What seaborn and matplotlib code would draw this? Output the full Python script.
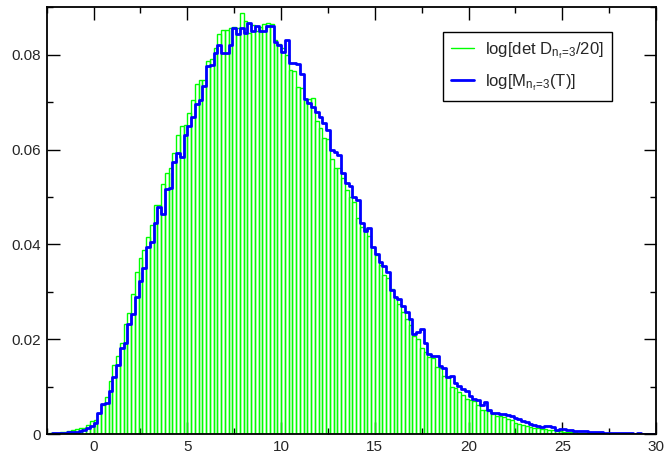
import numpy as np
import pandas as pd
import matplotlib
matplotlib.use("Agg")
import matplotlib.pyplot as plt
from matplotlib.lines import Line2D
from matplotlib.ticker import MultipleLocator, FuncFormatter
import seaborn as sns

# ---- data: histogram heights per 0.2-wide bin, first bin starts at -2.4 ----
bin_start = -2.4
bin_width = 0.2

det_D = [  # green: log[det D_{nf=3}/20]
    0.0002, 0.0002, 0.0003, 0.0004, 0.0005, 0.0006, 0.0008, 0.0011, 0.0013, 0.0013,
    0.0020, 0.0027, 0.0030, 0.0045, 0.0062, 0.0079, 0.0111, 0.0146, 0.0165, 0.0193,
    0.0232, 0.0256, 0.0295, 0.0341, 0.0371, 0.0388, 0.0415, 0.0441, 0.0484, 0.0484,
    0.0528, 0.0550, 0.0560, 0.0592, 0.0630, 0.0649, 0.0651, 0.0676, 0.0704, 0.0739,
    0.0746, 0.0747, 0.0786, 0.0790, 0.0815, 0.0844, 0.0851, 0.0851, 0.0856, 0.0858,
    0.0856, 0.0888, 0.0871, 0.0846, 0.0862, 0.0850, 0.0859, 0.0864, 0.0867, 0.0864,
    0.0830, 0.0823, 0.0815, 0.0800, 0.0768, 0.0765, 0.0731, 0.0729, 0.0705, 0.0707,
    0.0708, 0.0660, 0.0645, 0.0624, 0.0622, 0.0581, 0.0560, 0.0561, 0.0539, 0.0514,
    0.0500, 0.0490, 0.0455, 0.0437, 0.0432, 0.0418, 0.0395, 0.0377, 0.0356, 0.0335,
    0.0330, 0.0305, 0.0288, 0.0275, 0.0258, 0.0242, 0.0230, 0.0207, 0.0200, 0.0181,
    0.0172, 0.0163, 0.0160, 0.0142, 0.0139, 0.0123, 0.0120, 0.0100, 0.0097, 0.0088,
    0.0082, 0.0074, 0.0072, 0.0070, 0.0062, 0.0050, 0.0050, 0.0048, 0.0043, 0.0039,
    0.0037, 0.0035, 0.0032, 0.0029, 0.0024, 0.0022, 0.0018, 0.0016, 0.0015, 0.0013,
    0.0012, 0.0011, 0.0010, 0.0009, 0.0008, 0.0006, 0.0006, 0.0005, 0.0005, 0.0004,
    0.0004, 0.0003, 0.0003, 0.0003, 0.0002, 0.0002, 0.0002, 0.0002, 0.0001, 0.0001,
    0.0001, 0.0001, 0.0001, 0.0001, 0.0001, 0.0001, 0.0001, 0.0001, 0.0000, 0.0000,
    0.0000, 0.0000,
]

M_T = [  # blue: log[M_{nf=3}(T)]
    0.0001, 0.0002, 0.0002, 0.0002, 0.0003, 0.0004, 0.0004, 0.0005, 0.0006, 0.0009,
    0.0012, 0.0017, 0.0024, 0.0044, 0.0063, 0.0066, 0.0090, 0.0120, 0.0146, 0.0182,
    0.0192, 0.0232, 0.0253, 0.0290, 0.0323, 0.0351, 0.0395, 0.0405, 0.0444, 0.0478,
    0.0464, 0.0516, 0.0518, 0.0574, 0.0592, 0.0584, 0.0630, 0.0649, 0.0669, 0.0697,
    0.0705, 0.0733, 0.0776, 0.0778, 0.0803, 0.0821, 0.0804, 0.0804, 0.0821, 0.0856,
    0.0844, 0.0856, 0.0846, 0.0867, 0.0850, 0.0860, 0.0849, 0.0849, 0.0860, 0.0860,
    0.0827, 0.0820, 0.0805, 0.0832, 0.0783, 0.0782, 0.0781, 0.0760, 0.0707, 0.0698,
    0.0690, 0.0679, 0.0669, 0.0655, 0.0641, 0.0599, 0.0595, 0.0588, 0.0550, 0.0530,
    0.0523, 0.0500, 0.0493, 0.0445, 0.0429, 0.0434, 0.0395, 0.0379, 0.0363, 0.0354,
    0.0342, 0.0304, 0.0288, 0.0285, 0.0269, 0.0257, 0.0242, 0.0211, 0.0216, 0.0221,
    0.0192, 0.0169, 0.0165, 0.0165, 0.0144, 0.0139, 0.0121, 0.0123, 0.0107, 0.0102,
    0.0095, 0.0091, 0.0081, 0.0074, 0.0072, 0.0062, 0.0067, 0.0051, 0.0045, 0.0045,
    0.0043, 0.0043, 0.0041, 0.0037, 0.0034, 0.0032, 0.0027, 0.0025, 0.0021, 0.0018,
    0.0016, 0.0015, 0.0017, 0.0016, 0.0014, 0.0009, 0.0011, 0.0010, 0.0008, 0.0008,
    0.0007, 0.0007, 0.0006, 0.0006, 0.0005, 0.0005, 0.0004, 0.0004, 0.0003, 0.0003,
    0.0003, 0.0002, 0.0002, 0.0002, 0.0002, 0.0002, 0.0001, 0.0002, 0.0001, 0.0001,
    0.0001, 0.0001,
]

label_green = r"log[det D$_{n_f\!=\!3}$/20]"
label_blue = r"log[M$_{n_f\!=\!3}$(T)]"

x_ticks = [0, 5, 10, 15, 20, 25, 30]
y_ticks = [0, 0.02, 0.04, 0.06, 0.08]

# ---- build data frame ----
n = min(len(det_D), len(M_T))
edges = [float(e) for e in (bin_start + bin_width * np.arange(n + 1))]
centers = [0.5 * (edges[i] + edges[i + 1]) for i in range(n)]
df = pd.DataFrame({"x": centers, "green": det_D[:n], "blue": M_T[:n]})

sns.set_style("ticks")
plt.rcParams["font.family"] = ["Liberation Sans", "DejaVu Sans"]
plt.rcParams["mathtext.fontset"] = "custom"
plt.rcParams["mathtext.rm"] = "Liberation Sans"
plt.rcParams["mathtext.it"] = "Liberation Sans"
plt.rcParams["mathtext.default"] = "regular"

fig, ax = plt.subplots(figsize=(6.68, 4.54), dpi=100)
fig.subplots_adjust(left=0.070, right=0.982, top=0.984, bottom=0.044)

sns.histplot(data=df, x="x", weights="green", bins=edges, element="bars",
             fill=False, color="#00ff00", linewidth=1.0, ax=ax)
sns.histplot(data=df, x="x", weights="blue", bins=edges, element="step",
             fill=False, color="#0000ff", linewidth=2.0, ax=ax)

ax.set_xlim(-2.5, 30)
ax.set_ylim(0, 0.09)
ax.set_xlabel("")
ax.set_ylabel("")

ax.xaxis.set_minor_locator(MultipleLocator(2.5))
ax.yaxis.set_minor_locator(MultipleLocator(0.01))
ax.set_xticks(x_ticks)
ax.set_yticks(y_ticks)
ax.xaxis.set_major_formatter(FuncFormatter(lambda v, p: f"{v:g}"))
ax.yaxis.set_major_formatter(FuncFormatter(lambda v, p: "0" if abs(v) < 1e-12 else f"{v:.2f}"))
ax.tick_params(which="both", direction="in", top=True, right=True, color="black")
ax.tick_params(which="major", length=9, width=1.0, labelsize=11, pad=4)
ax.tick_params(which="minor", length=4.5, width=1.0)
for s in ax.spines.values():
    s.set_linewidth(1.3)
    s.set_color("black")
    s.set_visible(True)

handles = [Line2D([], [], color="#00ff00", lw=1.0),
           Line2D([], [], color="#0000ff", lw=2.0)]
leg = ax.legend(handles, [label_green, label_blue], loc="upper left",
                bbox_to_anchor=(0.650, 0.943), borderaxespad=0.0,
                fontsize=12, frameon=True,
                fancybox=False, framealpha=1, edgecolor="black",
                handlelength=1.4, handletextpad=0.65, borderpad=0.5,
                labelspacing=0.7)
leg.get_frame().set_linewidth(1.0)

fig.savefig("out.png", dpi=100)
